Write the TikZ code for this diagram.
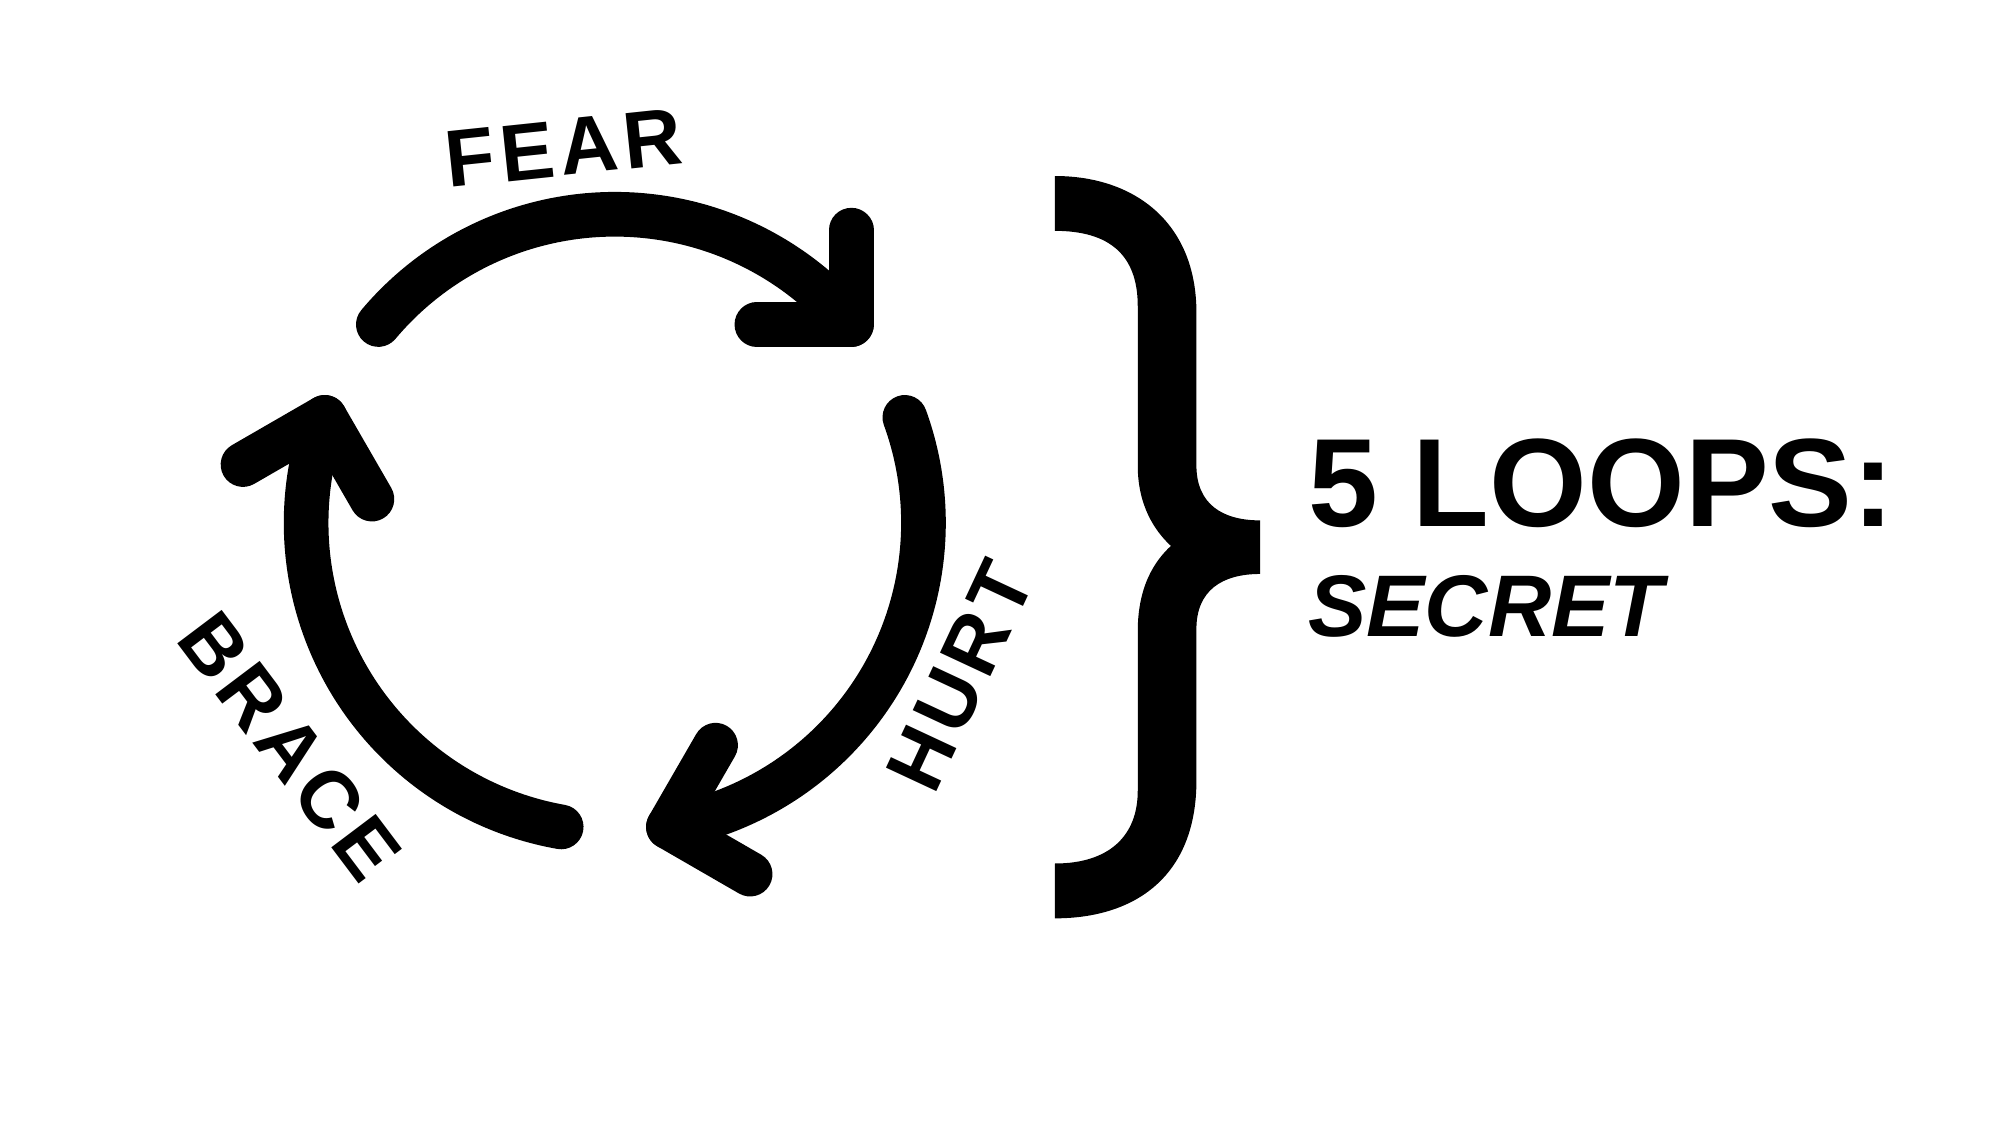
\documentclass[tikz,border=0pt]{standalone}
\usepackage{fontspec}
\setmainfont{Liberation Sans}
\newfontfamily\lblfont[LetterSpace=7]{Liberation Sans}
\usetikzlibrary{calc}
\tikzset{
  loopline/.style={line width=0.35cm, line cap=round, line join=round, draw=black},
  lbl/.style={inner sep=0pt, font=\lblfont\fontsize{18}{20}\selectfont\bfseries},
}
\begin{document}
\begin{tikzpicture}[x=0.01cm,y=0.01cm]
\path[use as bounding box, fill=white] (0,0) rectangle (1568,882);
\coordinate (C) at (482,472);
% FEAR arc
\coordinate (f0) at ($(C)+(140:242)$);
\coordinate (f1) at ($(C)+(40:242)$);
\draw[loopline] (f0) arc[start angle=140, end angle=40, radius=242];
\draw[loopline] ($(f1)+(90:74)$) -- (f1) -- ($(f1)+(180:74)$);
% HURT arc
\coordinate (h0) at ($(C)+(20:242)$);
\coordinate (h1) at ($(C)+(-80:242)$);
\draw[loopline] (h0) arc[start angle=20, end angle=-80, radius=242];
\draw[loopline] ($(h1)+(60:74)$) -- (h1) -- ($(h1)+(-30:74)$);
% BRACE arc
\coordinate (b0) at ($(C)+(-100:242)$);
\coordinate (b1) at ($(C)+(-200:242)$);
\draw[loopline] (b0) arc[start angle=-100, end angle=-200, radius=242];
\draw[loopline] ($(b1)+(-60:74)$) -- (b1) -- ($(b1)+(-150:74)$);
% labels
\node[lbl, rotate=6] (fear) at (442,766) {FEAR};
\node[lbl, rotate=65] (hurt) at (753,352) {HURT};
\node[lbl, rotate=-53] (brace) at (227,297) {BRACE};
% curly brace
\fill[black] (827,744)
  .. controls (890,744) and (938,707) .. (938,637)
  -- (938,517)
  .. controls (938,487) and (958,474) .. (988,474)
  -- (988,432)
  .. controls (958,432) and (938,419) .. (938,389)
  -- (938,270)
  .. controls (938,195) and (890,162) .. (827,162)
  -- (827,205)
  .. controls (870,205) and (892,227) .. (892,262)
  -- (892,387)
  .. controls (892,422) and (905,442) .. (918,454)
  .. controls (905,466) and (892,486) .. (892,517)
  -- (892,642)
  .. controls (892,682) and (870,701) .. (827,701)
  -- cycle;
% text
\node[anchor=base west, inner sep=0pt, font=\fontsize{28}{32}\selectfont\bfseries] (loops) at (1025,469) {5 LOOPS:};
\node[anchor=base west, inner sep=0pt, font=\fontsize{19.5}{22}\selectfont\bfseries\itshape] (secret) at (1025,383) {SECRET};
\end{tikzpicture}
\end{document}
